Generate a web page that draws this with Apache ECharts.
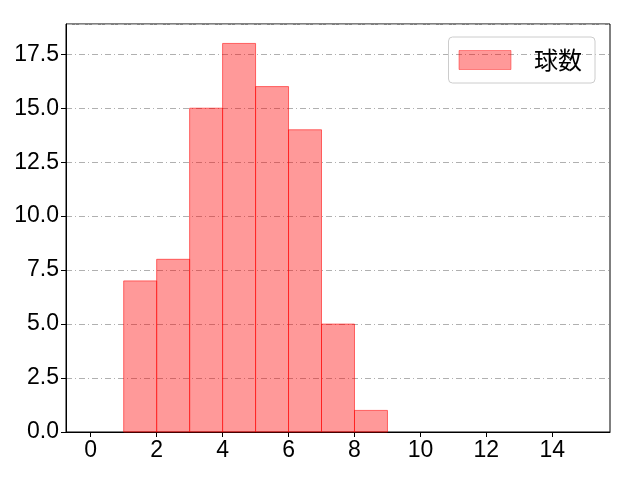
<!DOCTYPE html>
<html><head><meta charset="utf-8">
<script src="https://cdn.jsdelivr.net/npm/echarts@6/dist/echarts.min.js"></script>
<style>html,body{margin:0;padding:0;background:#fff}#c{width:640px;height:480px}</style>
</head><body><div id="c"></div>
<script>
var binStarts = [1, 2, 3, 4, 5, 6, 7, 8];
var binWidth = 1;
var counts = [7, 8, 15, 18, 16, 14, 5, 1];
var xTicks = [0, 2, 4, 6, 8, 10, 12, 14];
var seriesName = '球数';

var chart = echarts.init(document.getElementById('c'));
var data = binStarts.map(function (s, i) { return [s, s + binWidth, counts[i]]; });
var font = '"Noto Sans CJK JP", "DejaVu Sans", sans-serif';
var tickFont = '"Liberation Sans", "Noto Sans CJK JP", sans-serif';
chart.setOption({
  animation: false,
  grid: { left: 66, right: 30, top: 24, bottom: 48, show: true, borderColor: '#000', borderWidth: 1, backgroundColor: 'transparent' },
  legend: {
    right: 45, top: 37, orient: 'vertical',
    padding: [10, 13, 10, 10],
    borderColor: '#cccccc', borderWidth: 1, borderRadius: 4,
    itemWidth: 52, itemHeight: 19,
    icon: 'rect',
    textStyle: { fontSize: 24, lineHeight: 26, fontFamily: font, color: '#000', padding: [0, 0, 0, 18] },
    data: [{ name: seriesName, itemStyle: { color: 'rgba(255,0,0,0.4)', borderColor: 'rgba(255,0,0,0.4)', borderWidth: 1 } }]
  },
  xAxis: {
    type: 'value', min: -0.75, max: 15.75,
    splitLine: { show: false },
    axisLine: { show: true, onZero: false, lineStyle: { color: '#000' } },
    axisTick: { show: true, customValues: xTicks, length: 5, lineStyle: { color: '#000' } },
    axisLabel: { customValues: xTicks, fontSize: 23, fontFamily: tickFont, color: '#000', margin: 7 }
  },
  yAxis: {
    type: 'value', min: 0, max: 18.9, interval: 2.5,
    splitLine: { show: true, lineStyle: { color: '#b0b0b0', type: [6, 3, 1, 3], width: 1 } },
    axisLine: { show: true, onZero: false, lineStyle: { color: '#000' } },
    axisTick: { show: true, length: 5, lineStyle: { color: '#000' } },
    axisLabel: { fontSize: 23, fontFamily: tickFont, color: '#000', margin: 7,
      formatter: function (v) { return v.toFixed(1); },
      showMaxLabel: false }
  },
  series: [{
    name: seriesName, type: 'custom',
    renderItem: function (params, api) {
      var p0 = api.coord([api.value(0), api.value(2)]);
      var p1 = api.coord([api.value(1), 0]);
      return { type: 'rect', shape: { x: p0[0], y: p0[1], width: p1[0] - p0[0], height: p1[1] - p0[1] },
        style: { fill: 'rgba(255,0,0,0.4)', stroke: 'rgba(255,0,0,0.55)', lineWidth: 1 } };
    },
    encode: { x: [0, 1], y: 2 },
    itemStyle: { color: 'rgba(255,0,0,0.4)' },
    data: data
  }]
});
</script></body></html>
